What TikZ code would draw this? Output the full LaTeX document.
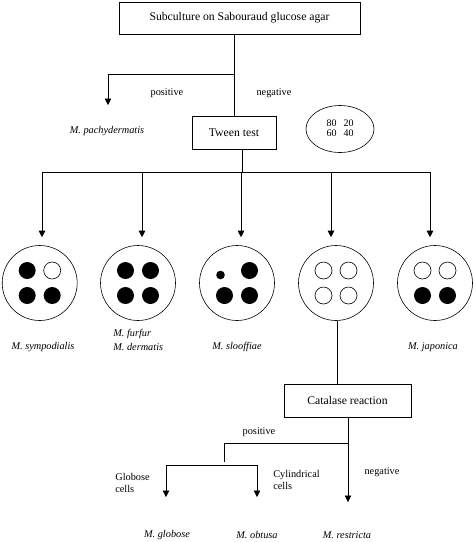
\documentclass[tikz,border=0pt]{standalone}
\usepackage{fontspec}
\setmainfont{Liberation Serif}
\usetikzlibrary{arrows.meta,shapes.geometric}
\begin{document}
\begin{tikzpicture}[x=1pt,y=-1pt,
  line width=0.7pt,
  box/.style={draw,line width=0.7pt,inner sep=0pt,font=\fontsize{11.7}{13}\selectfont},
  lab/.style={inner sep=0pt,font=\fontsize{10.3}{12}\selectfont},
  sp/.style={inner sep=0pt,font=\fontsize{10.3}{13.5}\selectfont\itshape},
  arr/.style={-{Triangle[width=6.5pt,length=6.5pt]}},
  plate/.style={draw,circle,line width=0.6pt,minimum size=75pt,inner sep=0pt},
  full/.style={fill=black},
  open/.style={draw,line width=0.6pt,fill=white}]
\useasboundingbox (0,0) rectangle (474,542);

% boxes
\node[box,minimum width=241pt,minimum height=32pt] (sub) at (239.5,18) {Subculture on Sabouraud glucose agar};
\node[box,minimum width=84pt,minimum height=33pt] (tween) at (234,132.5) {Tween test};
\node[box,minimum width=127pt,minimum height=33pt] (cat) at (347.5,400.5) {Catalase reaction};
\node[draw,ellipse,line width=0.6pt,minimum width=68pt,minimum height=47pt,inner sep=0pt,
      font=\fontsize{10}{10}\selectfont] (ell) at (340,129)
  {\begin{tabular}{@{}l@{\hspace{7pt}}l@{}}80 & 20\\60 & 40\end{tabular}};

% first branch
\coordinate (j1) at (234,74);
\coordinate (pa) at (108,105);
\draw (sub.south -| tween.north) -- (tween.north);
\draw[arr] (j1) -| (pa);
\node[lab] (pos1) at (167,93) {positive};
\node[lab] (neg1) at (274,93) {negative};
\node[sp] (pachy) at (107,131) {M. pachydermatis};

% plates
\node[plate] (c1) at (39.7,283) {};
\node[plate] (c2) at (138,283) {};
\node[plate] (c3) at (237,283) {};
\node[plate] (c4) at (336,283) {};
\node[plate] (c5) at (435,283) {};

% bus from Tween test
\coordinate (tb) at ([xshift=8pt]tween.south);
\coordinate (bus) at (242,172);
\draw (tb) -- (bus);
\draw (42,172) -- (430,172);
\foreach \p/\dx in {c1/2.3,c2/4,c3/4,c4/-5,c5/-5}{
  \draw[arr,shorten >=8pt] ([xshift=\dx pt]\p.north |- bus) -- ([xshift=\dx pt]\p.north);
}

% wells
\def\wr{8.5}
\def\wo{12.5}
% c1
\fill[full] ([shift={(-\wo,-\wo)}]c1.center) circle (\wr);
\draw[open] ([shift={(\wo,-\wo)}]c1.center) circle (\wr);
\fill[full] ([shift={(-\wo,\wo)}]c1.center) circle (\wr);
\fill[full] ([shift={(\wo,\wo)}]c1.center) circle (\wr);
% c2
\foreach \sx/\sy in {-1/-1,1/-1,-1/1,1/1}
  \fill[full] ([shift={(\sx*\wo,\sy*\wo)}]c2.center) circle (\wr);
% c3
\fill[full] ([shift={(-16.5,-8)}]c3.center) circle (4.3);
\fill[full] ([shift={(\wo,-\wo)}]c3.center) circle (\wr);
\fill[full] ([shift={(-\wo,\wo)}]c3.center) circle (\wr);
\fill[full] ([shift={(\wo,\wo)}]c3.center) circle (\wr);
% c4
\foreach \sx/\sy in {-1/-1,1/-1,-1/1,1/1}
  \draw[open] ([shift={(\sx*\wo,\sy*\wo)}]c4.center) circle (\wr);
% c5
\draw[open] ([shift={(-\wo,-\wo)}]c5.center) circle (\wr);
\draw[open] ([shift={(\wo,-\wo)}]c5.center) circle (\wr);
\fill[full] ([shift={(-\wo,\wo)}]c5.center) circle (\wr);
\fill[full] ([shift={(\wo,\wo)}]c5.center) circle (\wr);

% plate labels
\node[sp] (symp) at (43,347) {M. sympodialis};
\node[sp,align=left,anchor=west] (furf) at (113,340) {M. furfur\\M. dermatis};
\node[sp] (sloo) at (237,347) {M. slooffiae};
\node[sp] (japo) at (433,347) {M. japonica};

% catalase
\draw ([xshift=1pt]c4.south) -- ([xshift=1pt]c4.south |- cat.north);
\coordinate (j2) at (348,443);
\coordinate (re) at (348,502);
\draw[arr] (cat.south -| j2) -- (re);
\coordinate (j3) at (224,443);
\coordinate (j4) at (224,465);
\coordinate (go) at (166,497);
\coordinate (ob) at (257,497);
\draw (j2) -- (j3) -- ([yshift=3pt]j4);
\draw[arr] (j4) -| (go);
\draw[arr] (j4) -| (ob);
\node[lab] (pos2) at (259,432) {positive};
\node[lab] (neg2) at (382,472) {negative};
\node[lab,align=left,anchor=west] (glc) at (115,483) {Globose\\cells};
\node[lab,align=left,anchor=west] (cyc) at (273,480) {Cylindrical\\cells};
\node[sp] (glob) at (167,535) {M. globose};
\node[sp] (obt) at (257,535) {M. obtusa};
\node[sp] (rest) at (347,535) {M. restricta};
\end{tikzpicture}
\end{document}
